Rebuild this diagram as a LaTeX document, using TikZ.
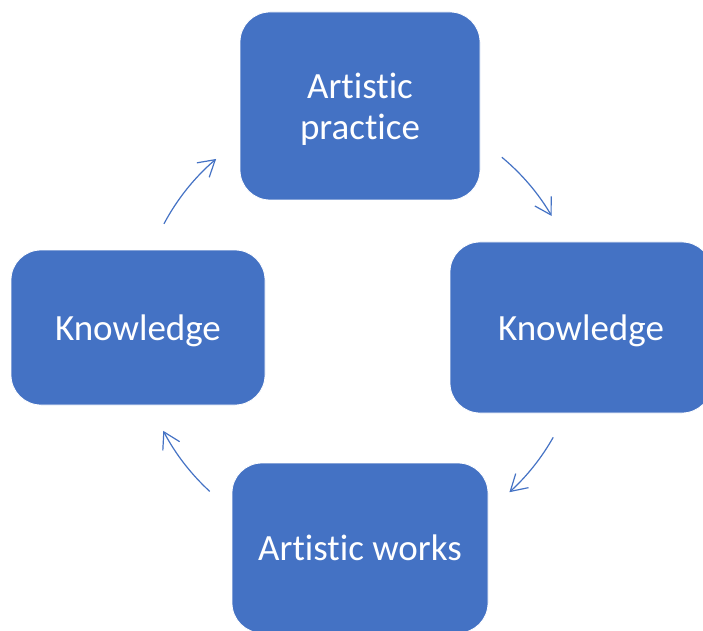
\documentclass[tikz,border=0pt]{standalone}
\usepackage{fontspec}
\setmainfont{Carlito}[Ligatures={NoCommon}]
\usetikzlibrary{arrows.meta}
\definecolor{officeblue}{HTML}{4472C4}
\begin{document}
\begin{tikzpicture}[x=1pt,y=1pt,
  box/.style={fill=officeblue, draw=white, line width=0.8pt, rounded corners=30pt,
    text=white, font=\fontsize{37}{41}\selectfont, align=center, inner sep=0pt, text depth=0pt},
  cyc/.style={draw=officeblue, line width=1.2pt,
    -{Straight Barb[length=16pt,width=19pt,line width=1.2pt]}}]
\useasboundingbox (0,0) rectangle (703,630);
\clip (0,0) rectangle (703,630);
\node[box, minimum width=240pt, minimum height=188pt] (top) at (360,524) {Artistic\\practice};
\node[box, minimum width=254pt, minimum height=155pt] (left) at (138,302.5) {Knowledge};
\node[box, minimum width=262pt, minimum height=171pt] (right) at (581,302.5) {Knowledge};
\node[box, minimum width=256pt, minimum height=170pt] (bottom) at (360,82) {Artistic works};
\coordinate (c) at (360,302);
\coordinate (a1) at ([shift={(152:222pt)}]c);
\coordinate (a2) at ([shift={(50.3:222pt)}]c);
\coordinate (a3) at ([shift={(-29.5:222pt)}]c);
\coordinate (a4) at ([shift={(227.4:222pt)}]c);
\draw[cyc] (a1) arc[start angle=152, end angle=130.4, radius=222pt];
\draw[cyc] (a2) arc[start angle=50.3, end angle=30.3, radius=222pt];
\draw[cyc] (a3) arc[start angle=-29.5, end angle=-47.7, radius=222pt];
\draw[cyc] (a4) arc[start angle=227.4, end angle=207.6, radius=222pt];
\end{tikzpicture}
\end{document}
